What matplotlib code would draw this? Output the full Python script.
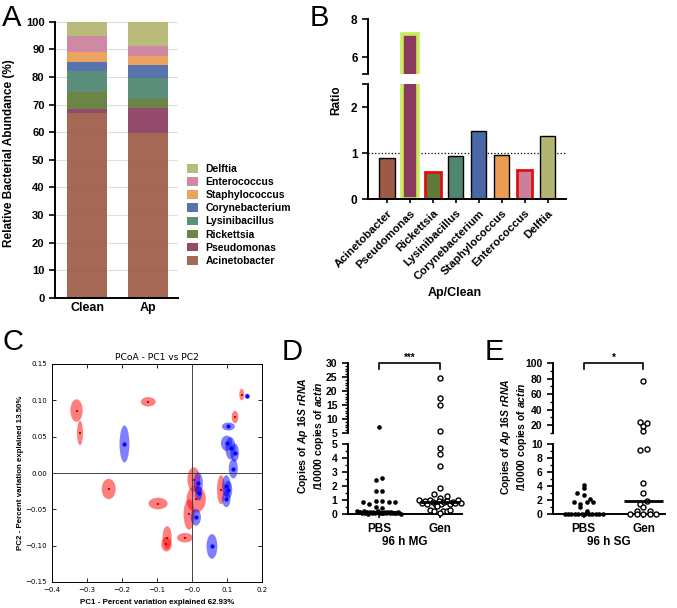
import numpy as np
import matplotlib
matplotlib.use('Agg')
import matplotlib.pyplot as plt
from matplotlib.patches import Patch, Ellipse
from matplotlib.ticker import MultipleLocator, FuncFormatter

plt.rcParams['font.family'] = ['Liberation Sans', 'DejaVu Sans']
plt.rcParams['mathtext.fontset'] = 'custom'
plt.rcParams['mathtext.rm'] = 'Liberation Sans:bold'
plt.rcParams['mathtext.bf'] = 'Liberation Sans:bold'
plt.rcParams['mathtext.it'] = 'Liberation Sans:italic:bold'

# ---- data ----
genera = ['Acinetobacter', 'Pseudomonas', 'Rickettsia', 'Lysinibacillus',
          'Corynebacterium', 'Staphylococcus', 'Enterococcus', 'Delftia']
colors = ['#9c5b45', '#8b3a5d', '#5f7a36', '#4e8670',
          '#4a68a5', '#ec9b52', '#cb7f9b', '#b2b571']
groups = ['Clean', 'Ap']
clean_pct = [67.0, 1.3, 6.1, 7.8, 3.2, 3.7, 5.8, 5.1]
ap_pct = [59.8, 8.8, 3.6, 7.5, 4.7, 3.2, 3.6, 8.8]

ratio = [0.89, 7.2, 0.59, 0.93, 1.47, 0.95, 0.62, 1.36]
ratio_edge = ['black', '#c8ec5c', '#e01010', 'black', 'black', 'black', '#e01010', 'black']
ratio_lw = [1.0, 2.6, 2.0, 1.0, 1.0, 1.0, 2.0, 1.0]

red_x = [-0.330, -0.320, -0.125, -0.238, -0.097, -0.071, -0.073, -0.020, 0.005, 0.012, -0.008, 0.083, 0.123, 0.142]
red_y = [0.086, 0.055, 0.098, -0.022, -0.042, -0.089, -0.098, -0.089, -0.009, -0.036, -0.057, -0.023, 0.077, 0.108]
red_w = [0.035, 0.017, 0.042, 0.040, 0.055, 0.026, 0.030, 0.045, 0.036, 0.055, 0.032, 0.023, 0.019, 0.014]
red_h = [0.031, 0.034, 0.013, 0.028, 0.016, 0.032, 0.020, 0.013, 0.034, 0.037, 0.042, 0.040, 0.017, 0.016]

blue_x = [-0.193, 0.104, 0.099, 0.110, 0.122, 0.118, 0.157, 0.098, 0.104, 0.098, 0.018, 0.011, 0.057, 0.019]
blue_y = [0.040, 0.064, 0.041, 0.034, 0.028, 0.006, 0.106, -0.018, -0.023, -0.036, -0.014, -0.061, -0.101, -0.028]
blue_w = [0.028, 0.037, 0.033, 0.029, 0.024, 0.026, 0.013, 0.024, 0.022, 0.024, 0.026, 0.029, 0.031, 0.020]
blue_h = [0.051, 0.011, 0.021, 0.031, 0.025, 0.027, 0.007, 0.030, 0.025, 0.022, 0.030, 0.023, 0.034, 0.020]

# tick counts (copies per 10000 actin), listed roughly left to right within each row
mg_pbs = [7.0, 2.45, 2.55, 1.62, 1.62, 0.88, 0.72, 0.95, 0.95, 0.83, 0.88, 0.52, 0.43,
          0.20, 0.12, 0.17, 0.05, 0.19, 0.08, 0.15, 0.03, 0.14, 0.10, 0.13, 0.06, 0.11,
          0.18, 0.10, 0.04, 0.09, 0.16, 0.08, 0.12, 0.07, 0.15, 0.05, 0.10, 0.06, 0.13,
          0.04, 0.02]
mg_gen = [24.5, 17.5, 15.0, 5.6, 4.7, 4.3, 3.45, 1.86, 1.4, 1.15, 1.3,
          1.0, 0.8, 0.92, 0.7, 0.98, 0.86, 0.65, 0.9, 0.75, 0.85, 0.95, 0.72,
          0.88, 0.78, 1.0, 0.82, 0.29, 0.6, 0.24, 0.19, 0.05, 0.19, 0.29]
sg_pbs = [4.1, 3.76, 2.95, 2.71, 2.19, 1.71, 1.43, 1.76, 1.71, 0.95, 0.48,
          0, 0, 0, 0, 0, 0, 0, 0, 0, 0, 0, 0]
sg_gen = [77, 19, 24.5, 22.5, 12.5, 9.2, 9.3, 4.5, 3.0, 1.4, 1.9, 0.5, 1.05, 0.5,
          0, 0, 0, 0, 0]

W, H = 677, 608
fig = plt.figure(figsize=(W / 100, H / 100), dpi=100)


def box(x0, y0, x1, y1):
    # pixel box (top-left origin) -> figure fraction rect
    return [x0 / W, 1 - y1 / H, (x1 - x0) / W, (y1 - y0) / H]


def bold_ticks(ax, size=8):
    ax.tick_params(labelsize=size)
    for t in ax.get_xticklabels() + ax.get_yticklabels():
        t.set_fontweight('bold')


def prism(ax, left=True, bottom=True):
    for s in ['top', 'right']:
        ax.spines[s].set_visible(False)
    ax.spines['left'].set_visible(left)
    ax.spines['bottom'].set_visible(bottom)
    for s in ax.spines.values():
        s.set_linewidth(1.4)
    ax.tick_params(width=1.2, length=4, direction='out')
    ax.tick_params(which='minor', width=1.0, length=2.5)
    if not bottom:
        ax.tick_params(axis='x', bottom=False, labelbottom=False)


# ---------------- A ----------------
axA = fig.add_axes(box(55, 21.7, 178, 298))
base = np.zeros(2)
for i, g in enumerate(genera):
    vals = np.array([clean_pct[i], ap_pct[i]])
    axA.bar(range(2), vals, bottom=base, width=0.66, color=colors[i], alpha=0.92, zorder=2)
    base += vals
axA.set_xlim(-0.53, 1.49)
axA.set_ylim(0, 100)
axA.set_yticks(range(0, 101, 10))
axA.yaxis.grid(True, color='#dedede', lw=0.8)
axA.set_axisbelow(True)
axA.set_xticks(range(2))
axA.set_xticklabels(groups)
prism(axA)
axA.tick_params(axis='x', length=0, pad=3)
bold_ticks(axA, 8)
for t in axA.get_xticklabels():
    t.set_fontsize(9)
fig.text(9 / W, 1 - 153 / H, 'Relative Bacterial Abundance (%)', rotation=90,
         ha='center', va='center', fontsize=8.5, fontweight='bold')
handles = [Patch(facecolor=colors[i], alpha=0.92, label=genera[i]) for i in range(7, -1, -1)]
fig.legend(handles=handles, loc='upper left', bbox_to_anchor=(187 / W, 1 - 164 / H),
           frameon=False, prop={'weight': 'bold', 'size': 7.5}, borderpad=0,
           borderaxespad=0, handlelength=1.1, handleheight=0.9, handletextpad=0.7,
           labelspacing=0.3)

# ---------------- B ----------------
xb = np.arange(len(genera))
axBu = fig.add_axes(box(368, 19.3, 566, 74))
axBl = fig.add_axes(box(368, 84, 566, 199))
for ax in (axBu, axBl):
    ax.bar(xb, ratio, width=0.66, color=colors, edgecolor=ratio_edge, linewidth=ratio_lw, zorder=2)
    ax.set_xlim(-0.83, 7.8)
axBu.set_ylim(5.1, 8.0)
axBu.set_yticks([5.1, 6, 8])
axBu.set_yticklabels(['', '6', '8'])
prism(axBu, bottom=False)
axBl.set_ylim(0, 2.5)
axBl.set_yticks([0, 1, 2, 2.5])
axBl.set_yticklabels(['0', '1', '2', ''])
axBl.axhline(1, ls=':', color='black', lw=0.9, zorder=1)
axBl.set_xticks(xb)
axBl.set_xticklabels(genera, rotation=45, ha='right', rotation_mode='anchor')
prism(axBl)
axBl.tick_params(axis='x', length=3)
bold_ticks(axBu, 8.5)
bold_ticks(axBl, 8.5)
for t in axBl.get_xticklabels():
    t.set_fontsize(8.2)
fig.text(336 / W, 1 - 100 / H, 'Ratio', rotation=90, ha='center', va='center',
         fontsize=8.5, fontweight='bold')
fig.text(455 / W, 1 - 293 / H, 'Ap/Clean', ha='center', va='center',
         fontsize=9, fontweight='bold')

# ---------------- C ----------------
axC = fig.add_axes(box(52, 364, 262, 582))
for x, y, w, h in zip(red_x, red_y, red_w, red_h):
    axC.add_patch(Ellipse((x, y), w, h, facecolor='red', alpha=0.5, edgecolor='none'))
for x, y, w, h in zip(blue_x, blue_y, blue_w, blue_h):
    axC.add_patch(Ellipse((x, y), w, h, facecolor='blue', alpha=0.5, edgecolor='none'))
axC.scatter(red_x, red_y, marker='s', s=4, color='#d00000', zorder=3, linewidths=0)
axC.scatter(blue_x, blue_y, marker='o', s=9, color='blue', zorder=3, linewidths=0)
axC.axvline(0, color='#444444', lw=0.7)
axC.axhline(0, color='#444444', lw=0.7)
axC.set_xlim(-0.4, 0.2)
axC.set_ylim(-0.15, 0.15)
axC.set_xticks(np.arange(-0.4, 0.21, 0.1))
axC.set_yticks(np.arange(-0.15, 0.151, 0.05))
axC.xaxis.set_major_formatter(FuncFormatter(lambda v, p: ('%.1f' % v).replace('-', '\u2212')))
axC.yaxis.set_major_formatter(FuncFormatter(lambda v, p: ('%.2f' % v).replace('-', '\u2212')))
axC.tick_params(direction='in', top=True, right=True, labelsize=5, length=3, width=0.6)
for t in axC.get_xticklabels() + axC.get_yticklabels():
    t.set_fontfamily('DejaVu Sans')
for s in axC.spines.values():
    s.set_linewidth(0.7)
axC.set_title('PCoA - PC1 vs PC2', fontsize=6.6, family='DejaVu Sans', pad=3)
fig.text(157 / W, 1 - 602 / H, 'PC1 - Percent variation explained 62.93%',
         ha='center', va='center', fontsize=5.7, fontweight='bold')
fig.text(21 / W, 1 - 473 / H, 'PC2 - Percent variation explained 13.50%', rotation=90,
         ha='center', va='center', fontsize=5.7, fontweight='bold')


# ---------------- D / E ----------------
def scatter_rows(vals, ppu_y, ppu_x, dx, rowh, maxw):
    # prism-like column scatter: bin into rows, spread each row around the centre
    vals = np.asarray(vals, dtype=float)
    bins = np.round(vals * ppu_y / rowh).astype(int)
    offs = np.zeros(len(vals))
    for b in np.unique(bins):
        idx = np.where(bins == b)[0]
        n = len(idx)
        sp = dx if n <= 1 else min(dx, maxw / (n - 1))
        offs[idx] = (np.arange(n) - (n - 1) / 2) * sp / ppu_x
    return offs


def dot_panel(x0, x1, upper_lim, upper_ticks, upper_minor, lower_lim, lower_ticks, lower_minor,
              pbs, gen, star, xlabel, maxw):
    axu = fig.add_axes(box(x0, 363, x1, 433))
    axl = fig.add_axes(box(x0, 444, x1, 514))
    ppu_x = (x1 - x0) / 1.87
    for ax, lim in ((axu, upper_lim), (axl, lower_lim)):
        ppu_y = 70.0 / (lim[1] - lim[0])
        for k, (vals, filled) in enumerate(((pbs, True), (gen, False))):
            v = np.array([a for a in vals if (lim[0] <= a <= lim[1] if ax is axl else a > lower_lim[1])])
            if len(v) == 0:
                continue
            xo = k + scatter_rows(v - lim[0], ppu_y, ppu_x, 6.5, 6.0, maxw[k])
            if filled:
                ax.scatter(xo, v, s=11, color='black', zorder=3, clip_on=False, linewidths=0)
            else:
                ax.scatter(xo, v, s=13, facecolor='white', edgecolor='black', linewidths=1.0,
                           zorder=3, clip_on=False)
        ax.set_xlim(-0.51, 1.36)
        ax.set_ylim(*lim)
    for k, vals in enumerate((pbs, gen)):
        med = np.median(vals)
        tgt = axl if med <= lower_lim[1] else axu
        tgt.hlines(med, k - 0.33, k + 0.33, color='black', lw=2.0, zorder=4)
    axu.set_yticks(upper_ticks)
    axu.yaxis.set_minor_locator(MultipleLocator(upper_minor))
    axl.set_yticks(lower_ticks)
    axl.yaxis.set_minor_locator(MultipleLocator(lower_minor))
    prism(axu, bottom=False)
    prism(axl)
    axl.set_xticks([0, 1])
    axl.set_xticklabels(['PBS', 'Gen'])
    axl.tick_params(axis='x', length=3)
    bold_ticks(axu, 7.5)
    bold_ticks(axl, 7.5)
    for t in axl.get_xticklabels():
        t.set_fontsize(8.5)
    axl.set_xlabel(xlabel, fontsize=8.5, fontweight='bold', labelpad=1)
    top = upper_lim[1]
    drop = (upper_lim[1] - upper_lim[0]) * 6 / 70
    axu.plot([0, 0, 1, 1], [top - drop, top, top, top - drop], color='black', lw=1.2, clip_on=False)
    axu.text(0.5, top, star, ha='center', va='bottom', fontsize=7, fontweight='bold')
    return axu, axl


dot_panel(348, 462, (5, 30), range(5, 31, 5), 1, (0, 5), range(0, 6), 0.5,
          mg_pbs, mg_gen, '***', '96 h MG', (44, 42))
dot_panel(553, 665, (10, 100), range(20, 101, 20), 10, (0, 10), range(0, 11, 2), 1,
          sg_pbs, sg_gen, '*', '96 h SG', (38, 34))

ylab = 'Copies of $\\mathit{Ap\\ 16S\\ rRNA}$\n/10000 copies of $\\mathit{actin}$'
fig.text(311 / W, 1 - 436 / H, ylab, rotation=90, ha='center', va='center',
         fontsize=7.5, fontweight='bold', linespacing=1.25)
fig.text(514 / W, 1 - 437 / H, ylab, rotation=90, ha='center', va='center',
         fontsize=7.5, fontweight='bold', linespacing=1.25)

# panel letters
for letter, px, py in (('A', 2, 26), ('B', 310, 26), ('C', 2, 350), ('D', 282, 360), ('E', 485, 360)):
    fig.text(px / W, 1 - py / H, letter, fontsize=21, ha='left', va='baseline')

fig.savefig('out.png', dpi=100)
